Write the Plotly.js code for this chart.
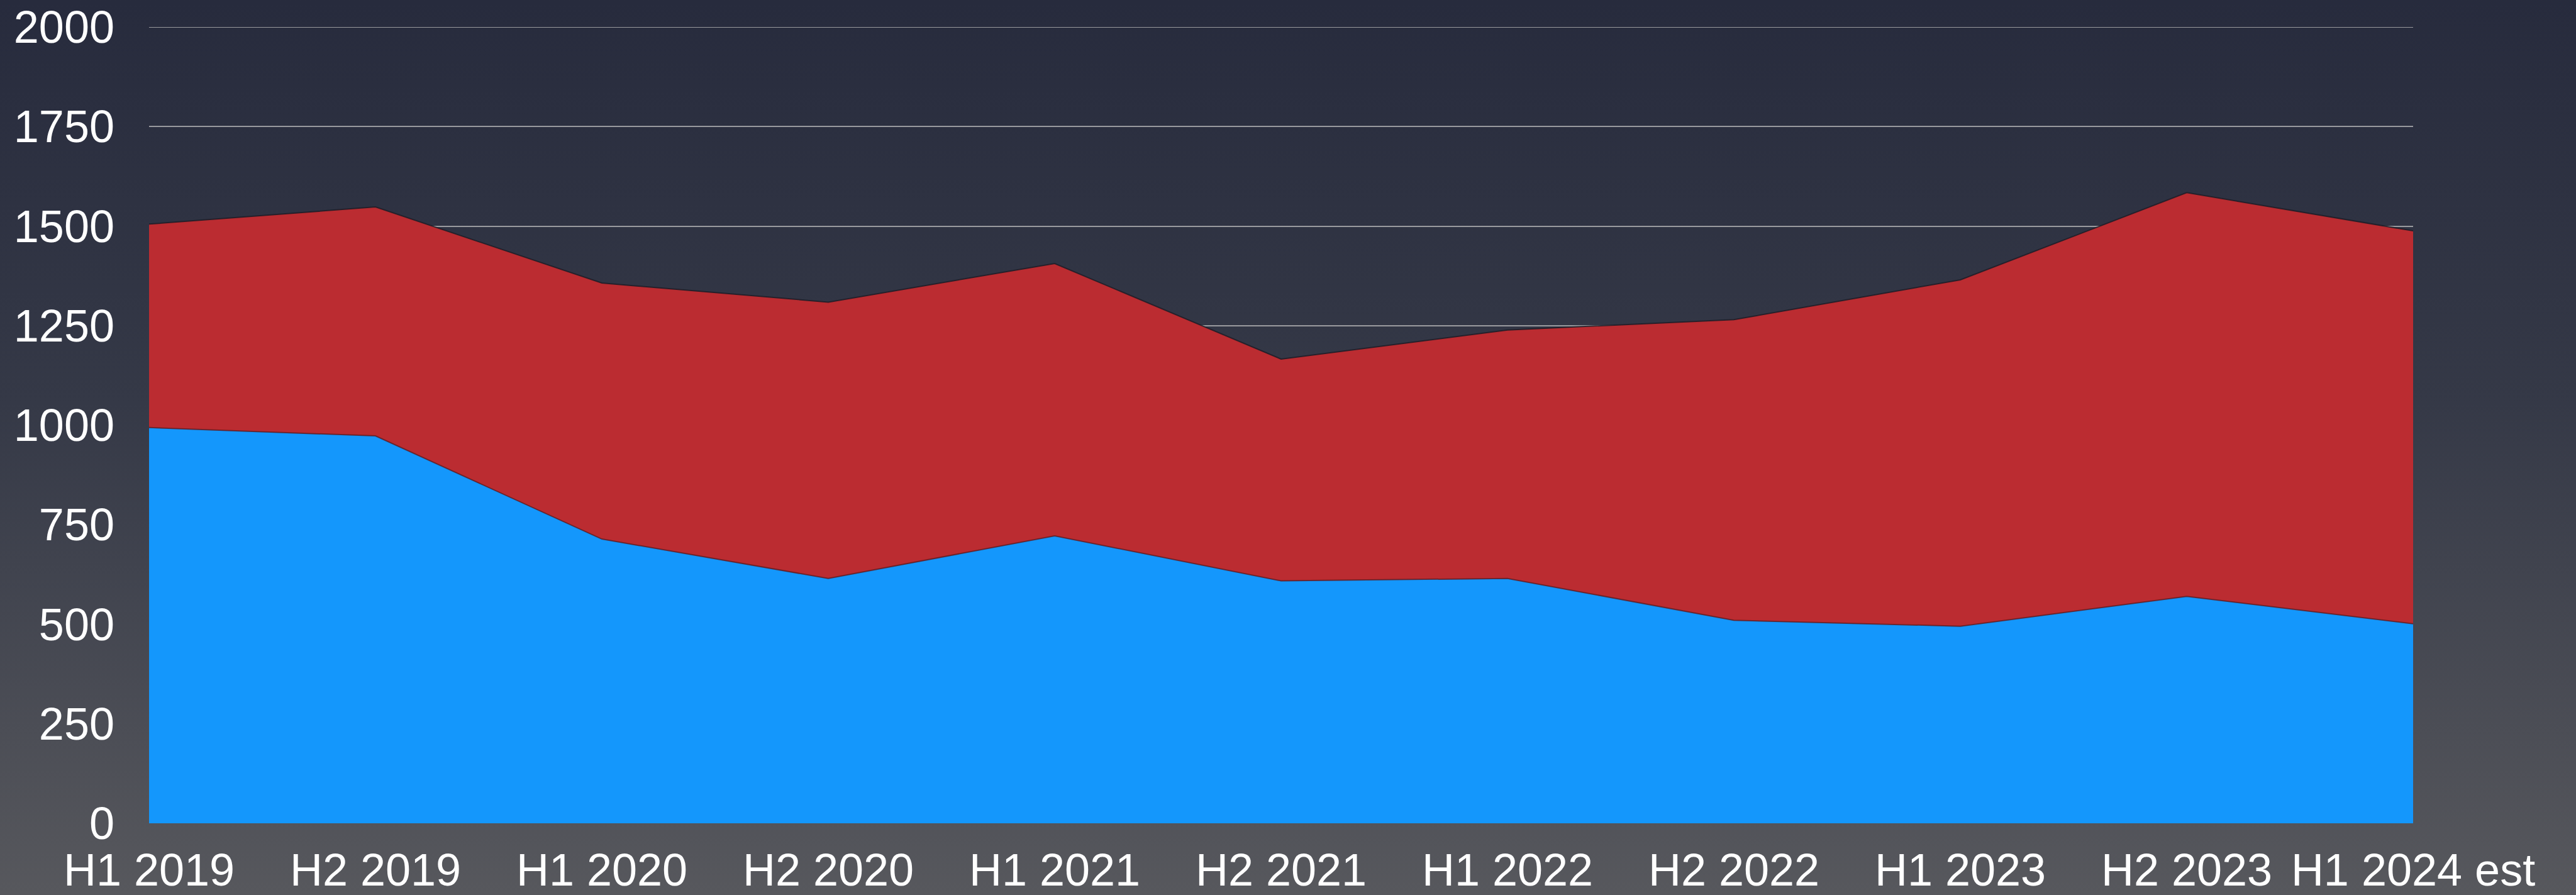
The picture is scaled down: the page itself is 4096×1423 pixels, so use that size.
<!DOCTYPE html>
<html>
<head>
<meta charset="utf-8">
<script src="https://cdn.plot.ly/plotly-3.0.1.min.js"></script>
<style>
  html, body { margin: 0; padding: 0; width: 4096px; height: 1423px; overflow: hidden;
    background: linear-gradient(to bottom, #272b3d 0%, #353947 45%, #57585d 100%); }
  #chart { width: 4096px; height: 1423px; }
</style>
</head>
<body>
<div id="chart"></div>
<script>
const periods = ["H1 2019", "H2 2019", "H1 2020", "H2 2020", "H1 2021", "H2 2021",
                 "H1 2022", "H2 2022", "H1 2023", "H2 2023", "H1 2024 est"];
const blueValues = [994, 973, 714, 615, 722, 609, 615, 510, 495, 570, 501];
const redValues  = [511, 575, 643, 694, 684, 557, 624, 755, 870, 1014, 987];
const yTicks = [0, 250, 500, 750, 1000, 1250, 1500, 1750, 2000];
const yMax = 2000;

const traces = [
  {
    x: periods, y: blueValues, type: "scatter", mode: "lines",
    stackgroup: "one", fillcolor: "#1497fc",
    line: { color: "rgba(95,25,30,0.75)", width: 2 },
    hoverinfo: "skip"
  },
  {
    x: periods, y: redValues, type: "scatter", mode: "lines",
    stackgroup: "one", fillcolor: "#bb2c31",
    line: { color: "rgba(25,27,38,0.8)", width: 2 },
    hoverinfo: "skip"
  }
];

const layout = {
  width: 4096, height: 1423,
  margin: { l: 237, r: 259, t: 43, b: 114, pad: 0 },
  paper_bgcolor: "rgba(0,0,0,0)",
  plot_bgcolor: "rgba(0,0,0,0)",
  showlegend: false,
  font: { family: "Liberation Sans, Arial, sans-serif", size: 72, color: "#ffffff" },
  xaxis: {
    type: "category",
    range: [0, periods.length - 1],
    showgrid: false, zeroline: false, showline: false,
    ticks: "", ticklabelstandoff: 26,
    tickfont: { size: 72, color: "#ffffff" }
  },
  yaxis: {
    range: [0, yMax],
    tickvals: yTicks,
    ticktext: yTicks.map(String),
    showgrid: true, gridcolor: "rgba(190,190,190,0.75)", gridwidth: 2,
    zeroline: false, showline: false,
    ticks: "", ticklabelstandoff: 54,
    tickfont: { size: 72, color: "#ffffff" }
  },
  shapes: [
    { type: "line", xref: "paper", yref: "y", x0: 0, x1: 1, y0: yMax, y1: yMax,
      layer: "below", line: { color: "rgba(190,190,190,0.75)", width: 2 } }
  ]
};

Plotly.newPlot("chart", traces, layout, { staticPlot: true, displayModeBar: false });
</script>
</body>
</html>
